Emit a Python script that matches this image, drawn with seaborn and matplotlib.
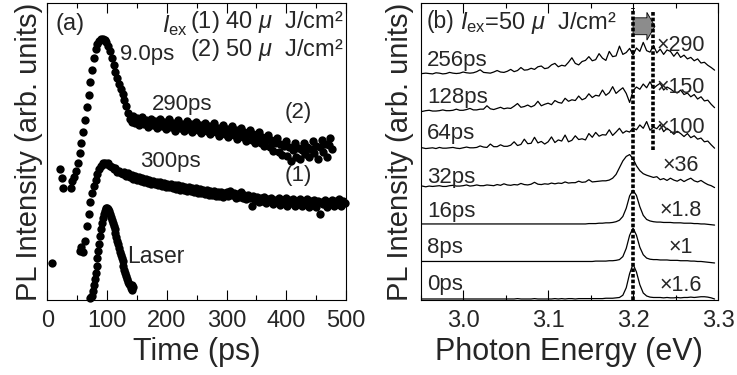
import numpy as np
import pandas as pd
import matplotlib
matplotlib.use("Agg")
import matplotlib.pyplot as plt
from matplotlib.ticker import MultipleLocator, FormatStrFormatter
import seaborn as sns

# ---------------- (a) PL decay, arbitrary units ----------------
laser_t0, laser_step = 72, 1.5
laser = [0.006, 0.01, 0.015, 0.03, 0.05, 0.07, 0.09, 0.115, 0.14, 0.165, 0.19, 0.215,
         0.24, 0.26, 0.275, 0.29, 0.30, 0.307, 0.31, 0.309, 0.305, 0.298, 0.29, 0.28,
         0.27, 0.26, 0.25, 0.238, 0.225, 0.212, 0.20, 0.188, 0.175, 0.162, 0.15, 0.14,
         0.13, 0.115, 0.10, 0.09, 0.08, 0.07, 0.06, 0.055, 0.05, 0.04, 0.035, 0.05, 0.045]

pl_step = 3
pl2_t0 = 21
pl2 = [0.44, 0.41, 0.376, np.nan, np.nan, np.nan, 0.376, 0.40, 0.415, 0.435, 0.46, 0.495,
       0.527, 0.567, 0.606, 0.651, 0.69, 0.735, 0.775, 0.815, 0.845, 0.862, 0.872, 0.878,
       0.88, 0.876, 0.868, 0.855, 0.838, 0.815, 0.79, 0.768, 0.748, 0.728, 0.71, 0.693,
       0.673, 0.652, 0.628, 0.61, 0.60,
       0.618, 0.597, 0.612, 0.588, 0.603, 0.615, 0.592, 0.607, 0.583, 0.598, 0.611, 0.589,
       0.604, 0.580, 0.596, 0.609, 0.586, 0.601, 0.575, 0.595, 0.608, 0.581, 0.597, 0.570,
       0.590, 0.606, 0.578, 0.594, 0.569, 0.588, 0.603, 0.575, 0.592, 0.566, 0.585, 0.600,
       0.572, 0.589, 0.563, 0.582, 0.597, 0.568, 0.585, 0.558, 0.578, 0.595, 0.564, 0.580,
       0.553, 0.575, 0.590, 0.560, 0.577, 0.548, 0.570, 0.586, 0.555, 0.572, 0.542, 0.565,
       0.580, 0.548, 0.566, 0.535, 0.558, 0.574, 0.538, 0.560, 0.527, 0.550, 0.566, 0.528,
       0.550, 0.517, 0.540, 0.556, 0.515, 0.538, 0.503, 0.530, 0.546, 0.500, 0.526, 0.488,
       0.518, 0.535, 0.485, 0.515, 0.468, 0.505, 0.530, 0.483, 0.512, 0.476, 0.505, 0.528,
       0.490, 0.515, 0.482, 0.510, 0.535, 0.495, 0.520, 0.476, 0.515, 0.540, 0.498, 0.525,
       0.480, 0.522, 0.545, 0.510]

pl1_t0 = 54
pl1 = [0.165, 0.18, 0.16, 0.20, 0.25, 0.29, 0.33, 0.36, 0.385, 0.405, 0.425, 0.44,
       0.452, 0.46, 0.462, 0.458, 0.46, 0.452, 0.448, 0.44, 0.445, 0.432, 0.436, 0.428,
       0.425, 0.431, 0.418, 0.426, 0.414, 0.420, 0.408, 0.418, 0.405, 0.413, 0.400, 0.41,
       0.398, 0.407, 0.395, 0.404, 0.392, 0.401, 0.389, 0.398, 0.386, 0.396, 0.384, 0.394,
       0.381, 0.392, 0.379, 0.390, 0.377, 0.388, 0.375, 0.386, 0.372, 0.384, 0.370, 0.382,
       0.368, 0.380, 0.366, 0.378, 0.363, 0.376, 0.361, 0.374, 0.359, 0.372, 0.357, 0.370,
       0.355, 0.368, 0.353, 0.366, 0.351, 0.364, 0.349, 0.362, 0.347, 0.360,
       0.362, 0.350, 0.366, 0.352, 0.360, 0.345, 0.358, 0.348, 0.362, 0.343, 0.355, 0.340,
       0.352, 0.345, 0.318, 0.350, 0.336, 0.347, 0.330, 0.343, 0.335, 0.348, 0.325, 0.340,
       0.332, 0.345, 0.322, 0.338, 0.330, 0.343, 0.320, 0.337, 0.328, 0.342, 0.318, 0.336,
       0.327, 0.341, 0.316, 0.335, 0.326, 0.340, 0.315, 0.334, 0.325, 0.339, 0.314, 0.333,
       0.324, 0.338, 0.313, 0.332, 0.290, 0.331, 0.322, 0.337, 0.312, 0.331, 0.322, 0.338,
       0.316, 0.333, 0.324, 0.340, 0.318, 0.335, 0.326]
pl1_lead_t = [8]
pl1_lead = [0.123]

# ---------------- (b) PL spectra, 0.004 eV per sample starting at 2.948 eV ----------------
e0, de = 2.948, 0.004
delays = ["0ps", "8ps", "16ps", "32ps", "64ps", "128ps", "256ps"]
factors = ["×1.6", "×1", "×1.8", "×36", "×100", "×150", "×290"]

spec_0ps = [0.00, 0.00, 0.00, 0.00, 0.00, 0.00, 0.00, 0.00, 0.00, 0.00, 0.00, 0.00, 0.00,
            0.00, 0.00, 0.00, 0.00, 0.00, 0.00, 0.00, 0.00, 0.00, 0.00, 0.00, 0.00, 0.00,
            0.00, 0.00, 0.00, 0.01, 0.00, 0.00, 0.00, 0.00, 0.01, 0.00, 0.00, 0.00, 0.00,
            0.00, 0.01, 0.00, 0.01, 0.00, 0.01, 0.01, 0.00, 0.01, 0.01, 0.01, 0.01,
            0.01, 0.01, 0.01, 0.01, 0.02, 0.02, 0.02, 0.03,
            0.04, 0.10, 0.30, 0.68, 0.93, 0.72, 0.38, 0.16, 0.08, 0.05, 0.04,
            0.04, 0.04, 0.03, 0.04, 0.03, 0.03, 0.04, 0.03, 0.04, 0.04, 0.05, 0.04, 0.05,
            0.06, 0.06, 0.05, 0.03, 0.00]
spec_8ps = [0.00, 0.00, 0.00, 0.00, 0.00, 0.00, 0.00, 0.00, 0.00, 0.00, 0.00, 0.00, 0.00,
            0.00, 0.00, 0.00, 0.00, 0.00, 0.00, 0.00, 0.00, 0.00, 0.00, 0.00, 0.00, 0.00,
            0.00, 0.00, 0.00, 0.00, 0.00, 0.00, 0.00, 0.00, 0.00, 0.00, 0.00, 0.00, 0.00,
            0.00, 0.00, 0.00, 0.00, 0.00, 0.00, 0.00, 0.00, 0.00, 0.00, 0.00,
            0.00, 0.00, 0.01, 0.01, 0.01, 0.01, 0.02, 0.02, 0.03,
            0.05, 0.13, 0.35, 0.70, 0.89, 0.70, 0.38, 0.18, 0.09, 0.06, 0.05,
            0.05, 0.04, 0.04, 0.04, 0.03, 0.03, 0.03, 0.02, 0.02, 0.02, 0.01, 0.01, 0.00,
            0.00, -0.01, -0.02, -0.03, -0.04]
spec_16ps = [0.00, 0.00, 0.00, 0.00, 0.00, 0.00, 0.00, 0.00, 0.00, 0.00, 0.00, 0.00, 0.00,
             0.00, 0.00, 0.00, 0.00, 0.00, 0.00, 0.00, 0.00, 0.00, 0.00, 0.00, 0.00, 0.00,
             0.00, 0.00, 0.00, 0.00, 0.00, 0.00, 0.00, 0.00, 0.00, 0.00, 0.00, 0.00, 0.00,
             0.00, 0.00, 0.00, 0.00, 0.00, 0.00, 0.00, 0.00, 0.00, 0.00, 0.00, 0.01,
             0.01, 0.01, 0.02, 0.02, 0.03, 0.03, 0.04, 0.06,
             0.10, 0.20, 0.42, 0.75, 0.90, 0.76, 0.46, 0.23, 0.12, 0.08, 0.06,
             0.05, 0.05, 0.04, 0.04, 0.04, 0.03, 0.03, 0.03, 0.02, 0.02, 0.02, 0.01, 0.01,
             0.00, 0.00, -0.01, -0.02, -0.03]
spec_32ps = [0.00, 0.01, -0.01, 0.01, 0.00, 0.01, 0.02, 0.00, 0.00, 0.02, 0.03, 0.01, 0.01,
             0.02, 0.04, 0.01, 0.02, 0.04, 0.02, 0.02, 0.04,
             0.03, 0.02, 0.05, 0.03, 0.07, 0.04, 0.03, 0.05, 0.04, 0.08, 0.05, 0.04, 0.06,
             0.11, 0.06, 0.05, 0.07, 0.06, 0.09, 0.07,
             0.09, 0.08, 0.12, 0.09, 0.10, 0.10, 0.14, 0.11, 0.12, 0.18, 0.12, 0.13,
             0.14, 0.15, 0.15, 0.17, 0.22, 0.32, 0.50, 0.68, 0.80, 0.85, 0.74, 0.55, 0.42,
             0.34, 0.30, 0.27, 0.24,
             0.26, 0.18, 0.21, 0.16, 0.22, 0.17, 0.14, 0.19, 0.13, 0.18, 0.22, 0.15, 0.12,
             0.16, 0.10, 0.05, 0.02, -0.03]
spec_64ps = [0.02, 0.03, 0.01, 0.02, 0.03, 0.01, 0.04, 0.02, 0.02, 0.03, 0.04, 0.02, 0.01,
             0.03, 0.05, 0.03, 0.03, 0.04, 0.08, 0.05, 0.04, 0.13, 0.06, 0.06, 0.11, 0.07,
             0.07, 0.10, 0.19, 0.09, 0.12, 0.26, 0.14, 0.15, 0.31, 0.16, 0.20, 0.13,
             0.19, 0.32, 0.17, 0.24, 0.21, 0.37, 0.19, 0.23, 0.35, 0.25, 0.27, 0.24, 0.41,
             0.31, 0.44, 0.34, 0.38, 0.37, 0.51, 0.36, 0.45, 0.55, 0.42, 0.48, 0.45, 0.56,
             0.51, 0.64, 0.55, 0.73, 0.50, 0.58, 0.54, 0.65, 0.46, 0.55, 0.48, 0.39,
             0.47, 0.41, 0.33, 0.41, 0.30, 0.35, 0.26, 0.29, 0.19, 0.21, 0.11, 0.02]
spec_128ps = [0.01, 0.00, 0.02, 0.03, 0.01, 0.01, 0.02, 0.04, 0.02, 0.02, 0.03, 0.06, 0.03,
              0.03, 0.05, 0.08, 0.04, 0.04, 0.06, 0.06, 0.15, 0.07, 0.05, 0.08, 0.11, 0.07,
              0.09, 0.08, 0.14, 0.21, 0.11, 0.13, 0.17, 0.12, 0.16, 0.27, 0.15, 0.19,
              0.22, 0.18, 0.29, 0.24, 0.22, 0.35, 0.27, 0.31, 0.29, 0.41, 0.31, 0.35, 0.47,
              0.37, 0.43, 0.41, 0.57, 0.43, 0.50, 0.66, 0.48, 0.56, 0.63, 0.48, 0.24, 0.55,
              0.65, 0.59, 0.73, 0.63, 0.79, 0.61, 0.69, 0.75, 0.57, 0.65, 0.60, 0.53,
              0.49, 0.57, 0.45, 0.49, 0.39, 0.45, 0.33, 0.39, 0.28, 0.30, 0.19, 0.10]
spec_256ps = [0.00, 0.01, 0.02, 0.01, 0.00, 0.03, 0.02, 0.00, 0.01, 0.04, 0.02, 0.01, 0.02,
              0.05, 0.03, 0.02, 0.03, 0.06, 0.11, 0.04, 0.03, 0.02, 0.05, 0.09, 0.05, 0.04,
              0.07, 0.12, 0.06, 0.09, 0.17, 0.10, 0.11, 0.15, 0.12, 0.19, 0.21, 0.14,
              0.16, 0.24, 0.28, 0.19, 0.23, 0.21, 0.31, 0.43, 0.28, 0.24, 0.33, 0.36, 0.46,
              0.35, 0.38, 0.54, 0.42, 0.36, 0.60, 0.46, 0.48, 0.74, 0.52, 0.57, 0.68, 0.50,
              0.69, 0.60, 0.84, 0.62, 0.58, 0.76, 0.56, 0.66, 0.52, 0.64, 0.60, 0.47,
              0.58, 0.44, 0.50, 0.40, 0.44, 0.35, 0.40, 0.29, 0.31, 0.23, 0.17, 0.10]
spectra = [spec_0ps, spec_8ps, spec_16ps, spec_32ps, spec_64ps, spec_128ps, spec_256ps]

peak_energy = 3.200      # exciton line at early delays
shifted_energy = 3.224   # blue-shifted band at late delays

# ---------------- style ----------------
sns.set_theme(style="ticks")
plt.rcParams["font.family"] = ["Liberation Sans", "DejaVu Sans"]
plt.rcParams["mathtext.fontset"] = "custom"
plt.rcParams["mathtext.rm"] = "Liberation Sans"
plt.rcParams["mathtext.it"] = "Liberation Sans:italic"
plt.rcParams["mathtext.bf"] = "Liberation Sans:bold"
plt.rcParams["axes.edgecolor"] = "black"
plt.rcParams["axes.linewidth"] = 0.8

TICK = 17
LABEL = 22
ANN = 16

fig = plt.figure(figsize=(7.37, 3.75), dpi=100)
ax_a = fig.add_axes([0.0642, 0.2, 0.4053, 0.792])
ax_b = fig.add_axes([0.5708, 0.2, 0.4034, 0.792])

# ---------------- panel (a) ----------------
frames = [
    pd.DataFrame({"time": laser_t0 + laser_step * np.arange(len(laser)), "pl": laser}),
    pd.DataFrame({"time": pl2_t0 + pl_step * np.arange(len(pl2)), "pl": pl2}),
    pd.DataFrame({"time": np.concatenate([pl1_lead_t, pl1_t0 + pl_step * np.arange(len(pl1))]),
                  "pl": np.concatenate([pl1_lead, pl1])}),
]
df_a = pd.concat(frames, ignore_index=True).dropna()
sns.scatterplot(data=df_a, x="time", y="pl", color="black", s=36, linewidth=0,
                legend=False, ax=ax_a, clip_on=False)
ax_a.set_xlim(0, 500)
ax_a.set_ylim(0, 1)
ax_a.xaxis.set_major_locator(MultipleLocator(100))
ax_a.xaxis.set_minor_locator(MultipleLocator(50))
ax_a.set_yticks([])
ax_a.set_xlabel("Time (ps)", fontsize=LABEL, labelpad=4)
ax_a.set_ylabel("PL Intensity (arb. units)", fontsize=LABEL - 1, labelpad=3)

ax_a.text(13, 0.93, "(a)", fontsize=ANN + 1, ha="left", va="center")
ax_a.text(192, 0.925, r"$I_{\rm ex}$", fontsize=ANN + 1, ha="left", va="center")
ax_a.text(239, 0.936, "(1) 40 $\\mu$  J/cm²", fontsize=ANN + 1, ha="left", va="center")
ax_a.text(239, 0.842, "(2) 50 $\\mu$  J/cm²", fontsize=ANN + 1, ha="left", va="center")
ax_a.text(122, 0.825, "9.0ps", fontsize=ANN, ha="left", va="center")
ax_a.text(175, 0.657, "290ps", fontsize=ANN, ha="left", va="center")
ax_a.text(398, 0.63, "(2)", fontsize=ANN, ha="left", va="center")
ax_a.text(155, 0.465, "300ps", fontsize=ANN, ha="left", va="center")
ax_a.text(398, 0.418, "(1)", fontsize=ANN, ha="left", va="center")
ax_a.text(133, 0.148, "Laser", fontsize=ANN + 0.5, ha="left", va="center")

# ---------------- panel (b) ----------------
rows = []
for k, (name, vals) in enumerate(zip(delays, spectra)):
    energy = e0 + de * np.arange(len(vals))
    rows.append(pd.DataFrame({"energy": energy, "signal": k + np.asarray(vals), "delay": name}))
df_b = pd.concat(rows, ignore_index=True)
sns.lineplot(data=df_b, x="energy", y="signal", units="delay", estimator=None,
             color="black", linewidth=0.9, sort=False, ax=ax_b)
ax_b.set_xlim(2.95, 3.30)
ax_b.set_ylim(-0.027, 7.89)
ax_b.xaxis.set_major_locator(MultipleLocator(0.1))
ax_b.xaxis.set_minor_locator(MultipleLocator(0.05))
ax_b.xaxis.set_major_formatter(FormatStrFormatter("%.1f"))
ax_b.set_yticks([])
ax_b.set_xlabel("Photon Energy (eV)", fontsize=LABEL, labelpad=4)
ax_b.set_ylabel("PL Intensity (arb. units)", fontsize=LABEL - 1, labelpad=5)

ax_b.arrow(peak_energy, 7.27, shifted_energy + 0.0018 - peak_energy, 0, width=0.45,
           head_width=0.74, head_length=0.0095, length_includes_head=True,
           fc="#8c8c8c", ec="black", lw=0.6, zorder=2)
ax_b.vlines(peak_energy, -0.027, 7.76, colors="black", linewidth=2.6,
            linestyles=(0, (1.0, 0.55)), zorder=3)
ax_b.vlines(shifted_energy, 3.97, 7.65, colors="black", linewidth=2.6,
            linestyles=(0, (1.0, 0.55)), zorder=3)

ax_b.text(2.9574, 7.39, "(b)", fontsize=ANN + 0.5, ha="left", va="center")
ax_b.text(2.9963, 7.37, r"$I_{\rm ex}$=50 $\mu$  J/cm²", fontsize=ANN + 1, ha="left", va="center")
label_y = [0.24, 1.23, 2.19, 3.09, 4.27, 5.23, 6.21]
factor_y = [0.21, 1.23, 2.21, 3.41, 4.43, 5.49, 6.61]
for name, fac, ly, fy in zip(delays, factors, label_y, factor_y):
    ax_b.text(2.9574, ly, name, fontsize=ANN, ha="left", va="baseline")
    ax_b.text(3.2565, fy, fac, fontsize=ANN - 0.5, ha="center", va="baseline")

for ax in (ax_a, ax_b):
    ax.tick_params(axis="x", which="both", direction="in", top=True, bottom=True,
                   width=0.8, color="black", labelsize=TICK, pad=7)
    ax.tick_params(axis="x", which="major", length=7)
    ax.tick_params(axis="x", which="minor", length=3.5)
    for sp in ax.spines.values():
        sp.set_visible(True)
        sp.set_color("black")
        sp.set_linewidth(0.8)

fig.savefig("out.png", dpi=100)
